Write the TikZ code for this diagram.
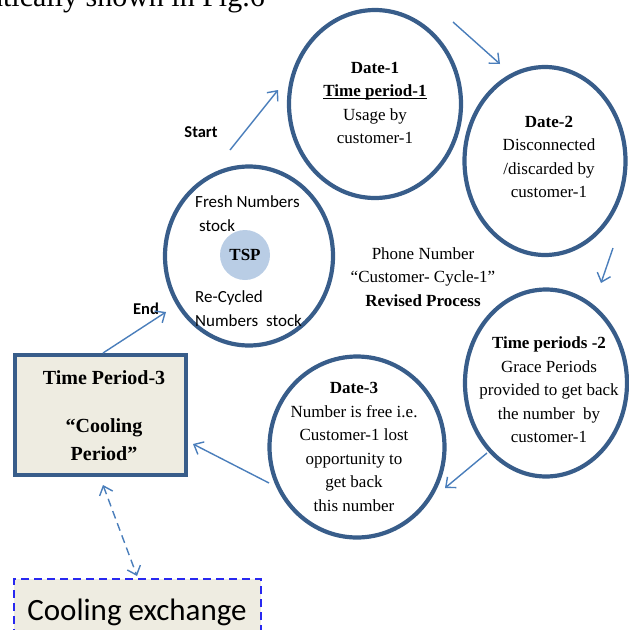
\documentclass[tikz,border=0pt]{standalone}
\usepackage{fontspec}
\setmainfont{Liberation Serif}
\newfontfamily\calibri{Carlito}
\usetikzlibrary{shapes.geometric,arrows.meta}
\definecolor{ringblue}{RGB}{56,93,138}
\definecolor{arrowblue}{RGB}{74,126,187}
\definecolor{paper}{RGB}{238,236,225}
\definecolor{tspfill}{RGB}{185,205,229}
\definecolor{dashblue}{RGB}{40,40,240}
% underline drawn close to the baseline
\newcommand\lowrule[1]{\setbox0\hbox{#1}\rlap{\rule[-2.6pt]{\wd0}{0.9pt}}\box0}

\begin{document}
\begin{tikzpicture}[x=1pt,y=-1pt,
  ring/.style={draw=ringblue,line width=4.2pt,ellipse,inner sep=0pt},
  body/.style={font=\fontsize{17}{23.5}\selectfont,align=center,inner sep=0pt},
  sans/.style={font=\calibri\fontsize{17}{24}\selectfont,align=left,inner sep=0pt},
  flow/.style={draw=arrowblue,line width=1.4pt,-{Straight Barb[length=8pt,width=14pt]}},
]
\useasboundingbox (0,0) rectangle (629,630);

% running text of the page above the figure
\node[anchor=base east,font=\fontsize{30}{30}\selectfont,inner sep=0pt] (lead) at (265,6) {atically shown in Fig.6};

% stage circles
\node[ring,minimum width=172pt,minimum height=188pt] (d1)  at (375,104) {};
\node[ring,minimum width=161pt,minimum height=188pt] (d2)  at (545,161) {};
\node[ring,minimum width=168pt,minimum height=179pt] (tsp) at (249,256) {};
\node[ring,minimum width=162pt,minimum height=187pt] (tp2) at (546,383) {};
\node[ring,minimum width=175pt,minimum height=181pt] (d3)  at (357,447) {};

% texts of the circles
\node[body] (d1t) at (375,103) {\textbf{Date-1}\\\textbf{\lowrule{Time period-1}}\\Usage by\\customer-1};
\node[body] (d2t) at (549,157) {\textbf{Date-2}\\Disconnected\\/discarded by\\customer-1};
\node[body] (tp2t) at (549,390) {\textbf{Time periods -2}\\Grace Periods\\provided to get back\\the number\ \ by\\customer-1};
\node[body] (d3t) at (354,447) {\textbf{Date-3}\\Number is free i.e.\\Customer-1 lost\\opportunity to\\get back\\this number};

% number pool
\node[circle,fill=tspfill,minimum size=50pt,inner sep=0pt,font=\fontsize{17}{17}\selectfont\bfseries] (core) at (245,255) {TSP};
\node[sans,anchor=base west] (fresh) at (195,231) {Fresh Numbers\\\hspace*{4pt}stock};
\node[sans,anchor=base west] (recyc) at (195,326) {Re-Cycled\\Numbers\ \ stock};

% title in the middle
\node[body] (title) at (423,277) {Phone Number\\“Customer- Cycle-1”\\\textbf{Revised Process}};

% cooling period box
\node[draw=ringblue,line width=4pt,fill=paper,minimum width=171pt,minimum height=120pt,inner sep=0pt] (tp3) at (100.5,415) {};
\node[font=\fontsize{20}{28}\selectfont\bfseries,align=center,inner sep=0pt] (tp3t) at (104,416) {Time Period-3\\[20pt]“Cooling\\Period”};

% cooling exchange box
\node[draw=dashblue,line width=2pt,dash pattern=on 8pt off 5pt,fill=paper,minimum width=247pt,minimum height=80pt,inner sep=0pt,anchor=north] (cx) at (137,578) {};
\node[font=\calibri\fontsize{31}{31}\selectfont,inner sep=0pt] (cxt) at (137,612) {Cooling exchange};

% start / end labels
\node[font=\calibri\fontsize{16.5}{17}\selectfont\bfseries,inner sep=0pt] (startl) at (201,132) {Start};
\node[font=\calibri\fontsize{16.5}{17}\selectfont\bfseries,inner sep=0pt] (endl) at (146,309) {End};

% arrow end points
\coordinate (s0) at (230,150); \coordinate (s1) at (278,90);
\coordinate (a0) at (453,22);  \coordinate (a1) at (500,64);
\coordinate (b0) at (613,248); \coordinate (b1) at (601,283);
\coordinate (c0) at (487,453); \coordinate (c1) at (445,488);
\coordinate (e0) at (269,483); \coordinate (e1) at (193,444);
\coordinate (f0) at (103,353); \coordinate (f1) at (166,312);
\coordinate (g0) at (103,485); \coordinate (g1) at (137,576);

\draw[flow] (s0) -- (s1);
\draw[flow] (a0) -- (a1);
\draw[flow] (b0) -- (b1);
\draw[flow] (c0) -- (c1);
\draw[flow] (e0) -- (e1);
\draw[flow] (f0) -- (f1);
\draw[draw=arrowblue,line width=1.4pt,dash pattern=on 8pt off 5pt,{Straight Barb[length=8pt,width=14pt]}-{Straight Barb[length=8pt,width=14pt]}] (g0) -- (g1);
\end{tikzpicture}
\end{document}
